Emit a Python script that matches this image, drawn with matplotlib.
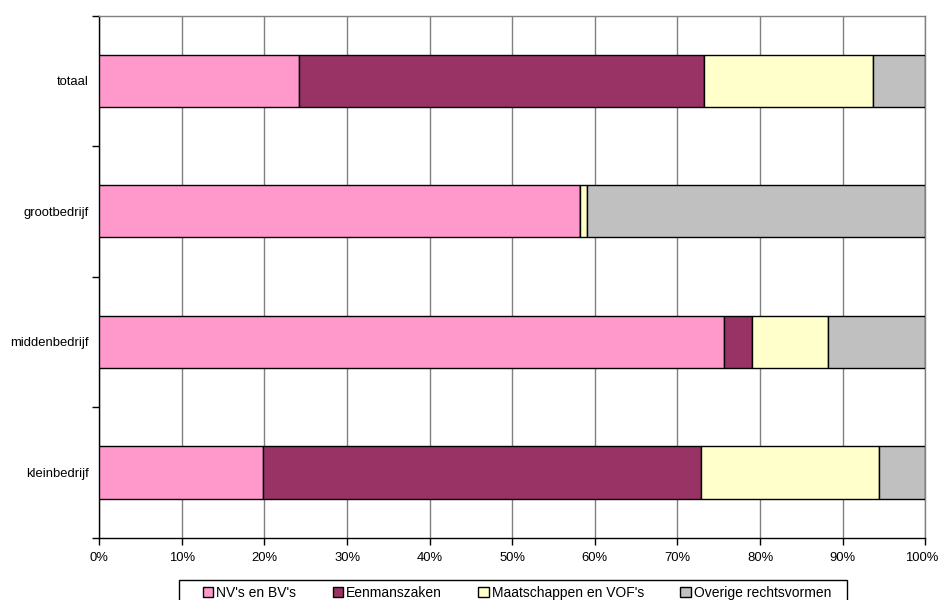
import matplotlib.pyplot as plt
import matplotlib.transforms as mtransforms
from matplotlib.patches import Rectangle
from matplotlib.ticker import FixedLocator, NullFormatter, PercentFormatter

plt.rcParams['font.family'] = ['Liberation Sans', 'DejaVu Sans']

# Data (shares in %), bottom to top
categories = ['kleinbedrijf', 'middenbedrijf', 'grootbedrijf', 'totaal']
nv_bv = [19.8, 75.6, 58.2, 24.2]
eenmanszaken = [53.0, 3.4, 0.0, 49.0]
maatschappen = [21.6, 9.2, 0.9, 20.5]
overige = [5.6, 11.8, 40.9, 6.3]

series = [
    ("NV's en BV's", nv_bv, '#FF99CC'),
    ('Eenmanszaken', eenmanszaken, '#993366'),
    ("Maatschappen en VOF's", maatschappen, '#FFFFCC'),
    ('Overige rechtsvormen', overige, '#C0C0C0'),
]

W, H = 941, 600
fig = plt.figure(figsize=(W / 100, H / 100), dpi=100)
ax = fig.add_axes([0.1055, 0.1038, 0.8778, 0.8703])

ypos = list(range(len(categories)))
left = [0.0] * len(categories)
for name, vals, color in series:
    ax.barh(ypos, vals, left=left, height=0.4, color=color,
            edgecolor='black', linewidth=1.0, label=name, zorder=3)
    left = [l + v for l, v in zip(left, vals)]

ax.set_xlim(0, 100)
ax.set_ylim(-0.5, len(categories) - 0.5)

# x axis
ax.set_xticks(range(0, 101, 10))
ax.xaxis.set_major_formatter(PercentFormatter(decimals=0))
ax.grid(axis='x', color='#808080', linewidth=1.0, zorder=0)
ax.tick_params(axis='x', direction='out', length=5, width=1, labelsize=9.4, pad=5)

# y axis: labels at centers, ticks at boundaries
ax.set_yticks(ypos)
ax.set_yticklabels(categories)
ax.tick_params(axis='y', which='major', length=0, labelsize=9.4, pad=7.5)
ax.yaxis.set_minor_locator(FixedLocator([i - 0.5 for i in range(len(categories) + 1)]))
ax.yaxis.set_minor_formatter(NullFormatter())
ax.tick_params(axis='y', which='minor', direction='out', length=5, width=1)

for s in ['top', 'right']:
    ax.spines[s].set_color('#808080')
    ax.spines[s].set_linewidth(1.0)
for s in ['left', 'bottom']:
    ax.spines[s].set_color('black')
    ax.spines[s].set_linewidth(1.0)

# keep "100%" inside the figure
fig.canvas.draw()
last = ax.get_xticklabels()[-1]
last.set_transform(last.get_transform()
                   + mtransforms.ScaledTranslation(-4 / 100, 0, fig.dpi_scale_trans))

# legend entries spread across the box, frame drawn separately
handles, labels = ax.get_legend_handles_labels()
fig.legend(handles, labels, loc='upper left', ncol=4,
           bbox_to_anchor=(203 / W, 1 - 586 / H, (831 - 203) / W, 0.0),
           mode='expand', fontsize=10, frameon=False,
           handlelength=0.75, handleheight=0.75, handletextpad=0.2,
           borderaxespad=0, borderpad=0)
fig.patches.append(Rectangle((179 / W, -0.01), (847 - 179) / W, 1 - 580 / H + 0.01,
                             transform=fig.transFigure, fill=False,
                             edgecolor='black', linewidth=1.0))

fig.savefig('out.png', dpi=100)
